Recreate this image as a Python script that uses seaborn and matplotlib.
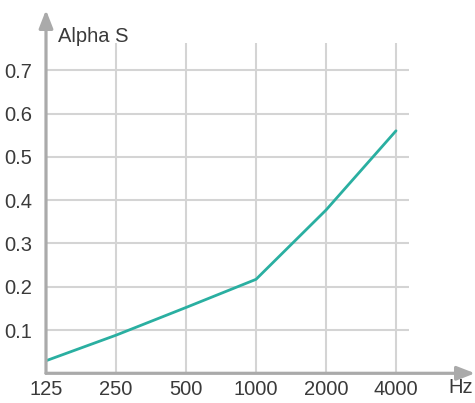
import matplotlib
matplotlib.use("Agg")
import matplotlib.pyplot as plt
import pandas as pd
import seaborn as sns

freqs = ["125", "250", "500", "1000", "2000", "4000"]
alpha_s = [0.029, 0.088, 0.152, 0.217, 0.377, 0.560]
y_ticks = [0.1, 0.2, 0.3, 0.4, 0.5, 0.6, 0.7]

df = pd.DataFrame({"Hz": freqs, "Alpha S": alpha_s})

sns.set_theme(style="white")
plt.rcParams["font.family"] = ["Liberation Sans", "DejaVu Sans"]

fig = plt.figure(figsize=(4.75, 4.03), dpi=100)
ax = fig.add_axes([46 / 475, 29.7 / 403, (475 - 46) / 475, 363.3 / 403])

grid_col = "#d4d4d4"
axis_col = "#aaaaaa"
text_col = "#3a3a3a"
fs = 14.5

xmax = 429 / 70
ymax = 363.3 / 433
ax.set_xlim(0, xmax)
ax.set_ylim(0, ymax)

# grid
ax.hlines(y_ticks, 0, 363 / 70, color=grid_col, lw=1.5, zorder=1)
ax.vlines(range(1, len(freqs)), 0, 330.3 / 433, color=grid_col, lw=1.5, zorder=1)

sns.lineplot(data=df, x="Hz", y="Alpha S", ax=ax, color="#2aafa1", lw=2.0,
             zorder=3, sort=False)

for s in ax.spines.values():
    s.set_visible(False)

# arrow axes
ax.annotate("", xy=(0, ymax), xytext=(0, 0),
            arrowprops=dict(arrowstyle="-|>,head_length=0.9,head_width=0.35",
                            color=axis_col, lw=2.3, shrinkA=0, shrinkB=0),
            zorder=4, annotation_clip=False)
ax.annotate("", xy=(xmax, 0), xytext=(0, 0),
            arrowprops=dict(arrowstyle="-|>,head_length=0.9,head_width=0.35",
                            color=axis_col, lw=2.3, shrinkA=0, shrinkB=0),
            zorder=4, annotation_clip=False)

ax.set_yticks(y_ticks)
ax.set_yticklabels([f"{v:.1f}" for v in y_ticks])
ax.set_xticks(range(len(freqs)))
ax.set_xticklabels(freqs)
ax.tick_params(axis="both", length=0, labelsize=fs, colors=text_col)
ax.tick_params(axis="y", pad=10)
ax.tick_params(axis="x", pad=5)
ax.set_xlabel("")
ax.set_ylabel("")

ax.text(0.17, 337 / 433, "Alpha S", fontsize=fs, color=text_col,
        ha="left", va="center")
ax.text(5.75, -14 / 433, "Hz", fontsize=fs, color=text_col,
        ha="left", va="center", clip_on=False)

fig.savefig("out.png", dpi=100)
